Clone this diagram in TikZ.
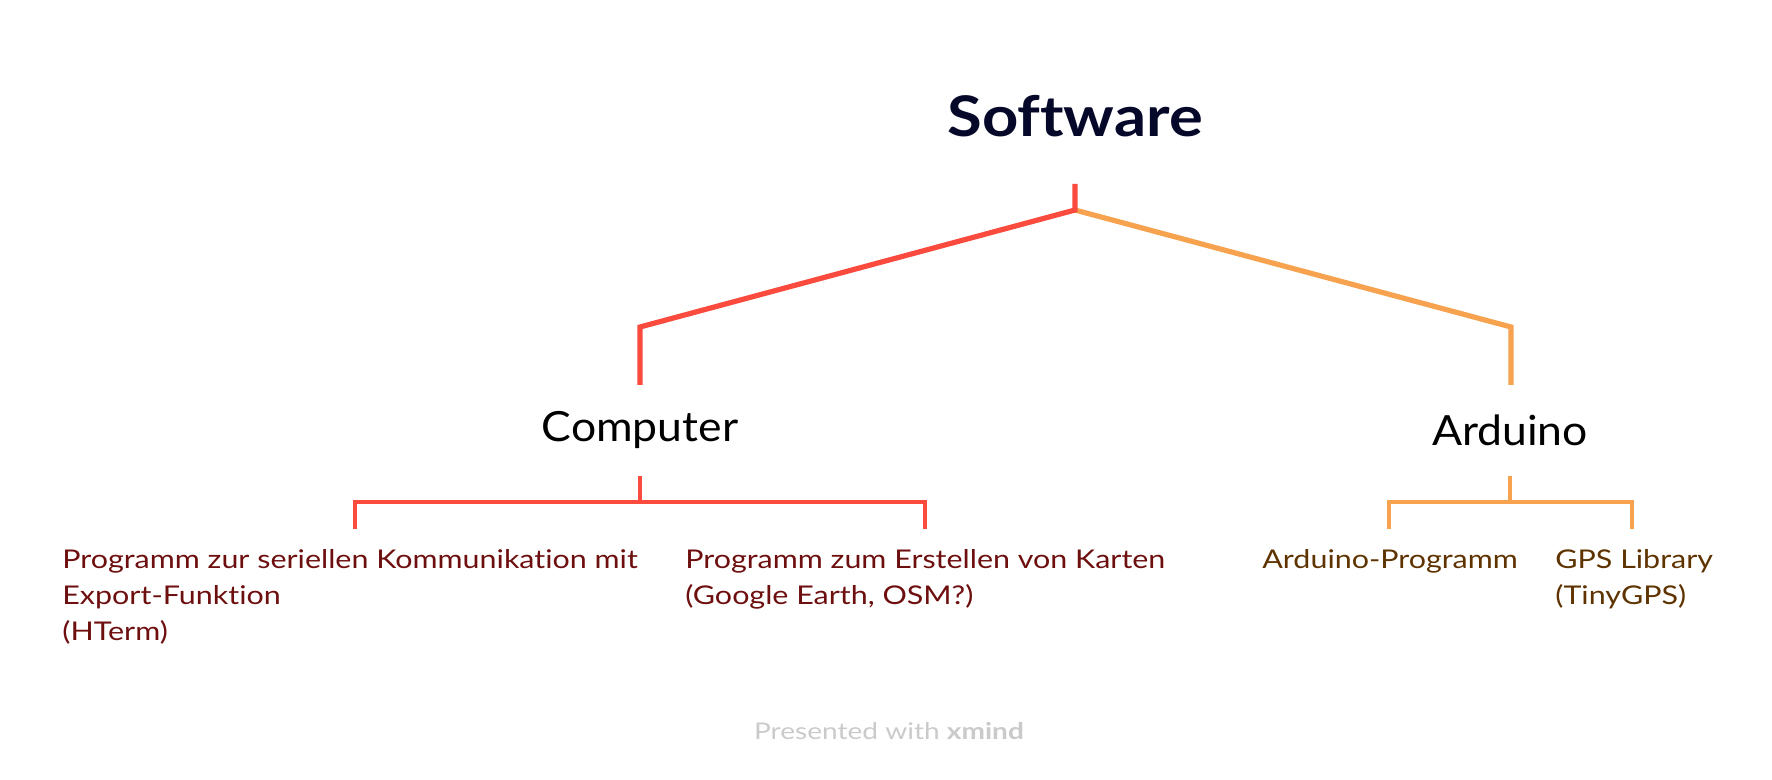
\documentclass[tikz,border=0pt]{standalone}
\usepackage{fontspec}
\setmainfont{Lato}[Ligatures=NoCommon]
\newfontfamily\rootfont{Lato}[FakeStretch=1.13, Ligatures=NoCommon]
\newfontfamily\mainfont{Lato}[FakeStretch=1.07, Ligatures=NoCommon]
\newfontfamily\leaffont{Lato}[FakeStretch=1.18, Ligatures=NoCommon]
\newfontfamily\footfont{Lato}[FakeStretch=1.22, Ligatures=NoCommon]
\definecolor{mainred}{HTML}{FB4A3E}
\definecolor{mainorange}{HTML}{F7A24F}
\definecolor{navy}{HTML}{050829}
\definecolor{leafred}{HTML}{6E0F0F}
\definecolor{leafbrown}{HTML}{5E3300}
\definecolor{footgray}{HTML}{CACACA}
\begin{document}
\begin{tikzpicture}[x=0.5pt,y=-0.5pt,
  rootnode/.style={inner sep=0pt, text=navy, font={\rootfont\fontsize{28}{34}\selectfont\bfseries}},
  mainnode/.style={inner sep=0pt, text=black, font={\mainfont\fontsize{20.8}{25}\selectfont}},
  leafnode/.style={inner sep=0pt, anchor=north west, align=left, font={\leaffont\fontsize{12.9}{18}\selectfont}},
  mainline/.style={line width=2.6pt, line join=miter},
  subline/.style={line width=1.6pt, line join=miter},
  foot/.style={inner sep=0pt, text=footgray, font={\footfont\fontsize{11.5}{14}\selectfont}}]
\useasboundingbox (0,0) rectangle (1772,780);
% nodes
\node[rootnode] (sw) at (1075,116) {Software};
\node[mainnode] (comp) at (640,430) {Computer};
\node[mainnode] (ard) at (1510,430) {Arduino};
\node[leafnode, text=leafred] (l1) at (62,549) {Programm zur seriellen Kommunikation mit\\Export-Funktion\\(HTerm)};
\node[leafnode, text=leafred] (l2) at (685,549) {Programm zum Erstellen von Karten\\(Google Earth, OSM?)};
\node[leafnode, text=leafbrown] (l3) at (1262,549) {Arduino-Programm};
\node[leafnode, text=leafbrown] (l4) at (1555,549) {GPS Library\\(TinyGPS)};
\node[foot] (ft) at (889,731) {Presented with \textbf{xmind}};
% connector coordinates
\coordinate (rtop) at (1075,184);
\coordinate (rj) at (1075,210);
\coordinate (cb) at (640,327);
\coordinate (ctop) at (640,385);
\coordinate (ab) at (1511,327);
\coordinate (atop) at (1511,385);
\coordinate (cs) at (640,476);
\coordinate (cj) at (640,502);
\coordinate (cl) at (355,502);
\coordinate (cr) at (925,502);
\coordinate (cld) at (355,529);
\coordinate (crd) at (925,529);
\coordinate (as) at (1510,476);
\coordinate (aj) at (1510,502);
\coordinate (al) at (1389,502);
\coordinate (ar) at (1632,502);
\coordinate (ald) at (1389,529);
\coordinate (ard2) at (1632,529);
% main connectors
\draw[mainline, mainorange] (rj) -- (ab) -- (atop);
\draw[mainline, mainred] (rtop) -- (rj) -- (cb) -- (ctop);
% sub connectors
\draw[subline, mainred] (cs) -- (cj);
\draw[subline, mainred] (cld) -- (cl) -- (cr) -- (crd);
\draw[subline, mainorange] (as) -- (aj);
\draw[subline, mainorange] (ald) -- (al) -- (ar) -- (ard2);
\end{tikzpicture}
\end{document}
